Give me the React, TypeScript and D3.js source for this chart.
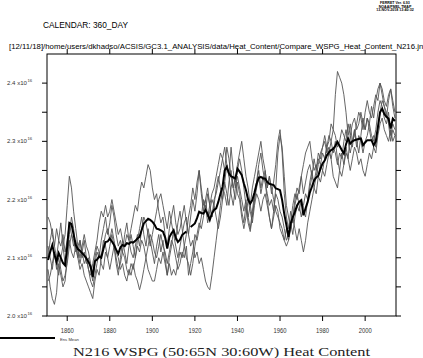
import React from "react";
import * as d3 from "d3";

const years: number[] = d3.range(1851, 2015);

const ensMean: (number | null)[] = [
  2.096, 2.110, 2.122, 2.105, 2.093, 2.108, 2.100, 2.091, 2.087, 2.120,
  2.160, 2.158, 2.140, 2.122, 2.115, 2.112, 2.108, 2.104, 2.099, 2.093,
  2.085, 2.067, 2.094, 2.097, 2.102, 2.100, 2.115, 2.127, 2.128, 2.133,
  2.128, 2.122, 2.114, 2.107, 2.118, 2.122, 2.120, 2.125, 2.124, 2.127,
  2.126, 2.129, 2.133, 2.136, 2.148, 2.159, 2.163, 2.167, 2.165, 2.162,
  2.157, 2.150, 2.149, 2.147, 2.145, 2.135, 2.116, 2.135, 2.142, 2.147,
  2.135, 2.127, 2.131, 2.139, 2.142, 2.145, null, 2.153, 2.156, 2.159,
  2.168, 2.179, 2.177, 2.176, 2.182, 2.175, 2.165, 2.176, 2.182, 2.185,
  2.196, 2.210, 2.222, 2.250, 2.256, 2.245, 2.240, 2.238, 2.236, 2.253,
  2.248, 2.242, 2.228, 2.216, 2.200, 2.193, 2.199, 2.212, 2.227, 2.237,
  2.239, 2.236, 2.236, 2.230, 2.227, 2.226, 2.225, 2.219, 2.218, 2.216,
  2.199, 2.175, 2.156, 2.136, 2.159, 2.170, 2.179, 2.190, 2.196, 2.199,
  2.173, 2.185, 2.196, 2.212, 2.222, 2.233, 2.238, 2.241, 2.253, 2.262,
  2.267, 2.276, 2.281, 2.285, 2.287, 2.292, 2.299, 2.292, 2.285, 2.279,
  2.295, 2.305, 2.296, 2.300, 2.302, 2.303, 2.304, 2.305, 2.293, 2.298,
  2.302, 2.302, 2.302, 2.293, 2.300, 2.325, 2.350, 2.356, 2.347, 2.342,
  2.339, 2.322, 2.339, 2.335,
];

const member1: number[] = [
  2.10, 2.13, 2.15, 2.12, 2.10, 2.13, 2.16, 2.12, 2.14, 2.19,
  2.24, 2.22, 2.18, 2.15, 2.12, 2.13, 2.10, 2.11, 2.09, 2.10,
  2.08, 2.06, 2.09, 2.11, 2.10, 2.13, 2.15, 2.17, 2.14, 2.16,
  2.19, 2.17, 2.14, 2.12, 2.13, 2.11, 2.14, 2.16, 2.13, 2.15,
  2.17, 2.19, 2.18, 2.21, 2.23, 2.22, 2.24, 2.26, 2.25, 2.22,
  2.20, 2.21, 2.18, 2.16, 2.17, 2.14, 2.12, 2.15, 2.17, 2.19,
  2.16, 2.14, 2.15, 2.17, 2.19, 2.16, 2.14, 2.17, 2.20, 2.18,
  2.21, 2.25, 2.22, 2.19, 2.20, 2.17, 2.19, 2.21, 2.22, 2.24,
  2.26, 2.28, 2.27, 2.25, 2.29, 2.27, 2.24, 2.22, 2.20, 2.23,
  2.21, 2.18, 2.16, 2.19, 2.17, 2.15, 2.18, 2.21, 2.23, 2.25,
  2.22, 2.24, 2.23, 2.21, 2.19, 2.20, 2.18, 2.21, 2.20, 2.18,
  2.17, 2.15, 2.13, 2.14, 2.16, 2.19, 2.21, 2.20, 2.22, 2.24,
  2.21, 2.23, 2.25, 2.26, 2.24, 2.27, 2.25, 2.28, 2.27, 2.29,
  2.31, 2.29, 2.30, 2.33, 2.32, 2.38, 2.42, 2.41, 2.40, 2.38,
  2.35, 2.31, 2.33, 2.30, 2.32, 2.29, 2.31, 2.30, 2.28, 2.30,
  2.31, 2.33, 2.31, 2.30, 2.32, 2.35, 2.37, 2.36, 2.34, 2.33,
  2.35, 2.31, 2.33, 2.32,
];

const member2: number[] = [
  2.08, 2.05, 2.03, 2.02, 2.04, 2.09, 2.07, 2.05, 2.06, 2.10,
  2.14, 2.17, 2.15, 2.12, 2.10, 2.08, 2.09, 2.07, 2.06, 2.05,
  2.04, 2.03, 2.06, 2.08, 2.07, 2.10, 2.13, 2.12, 2.10, 2.08,
  2.10, 2.12, 2.09, 2.07, 2.10, 2.13, 2.11, 2.09, 2.12, 2.14,
  2.12, 2.10, 2.13, 2.15, 2.17, 2.14, 2.12, 2.15, 2.13, 2.11,
  2.09, 2.12, 2.14, 2.11, 2.13, 2.10, 2.07, 2.10, 2.12, 2.15,
  2.13, 2.16, 2.18, 2.15, 2.12, 2.14, 2.17, 2.19, 2.22, 2.20,
  2.23, 2.25, 2.21, 2.18, 2.20, 2.22, 2.19, 2.17, 2.20, 2.21,
  2.23, 2.25, 2.27, 2.29, 2.26, 2.24, 2.29, 2.25, 2.22, 2.24,
  2.22, 2.20, 2.18, 2.20, 2.17, 2.19, 2.22, 2.24, 2.26, 2.28,
  2.30, 2.27, 2.25, 2.22, 2.24, 2.21, 2.23, 2.26, 2.30, 2.32,
  2.28, 2.21, 2.17, 2.15, 2.18, 2.16, 2.19, 2.21, 2.19, 2.17,
  2.19, 2.21, 2.20, 2.22, 2.24, 2.23, 2.25, 2.27, 2.26, 2.28,
  2.27, 2.29, 2.31, 2.30, 2.28, 2.30, 2.27, 2.25, 2.28, 2.26,
  2.29, 2.27, 2.31, 2.29, 2.32, 2.30, 2.28, 2.31, 2.34, 2.32,
  2.34, 2.33, 2.36, 2.34, 2.37, 2.39, 2.40, 2.38, 2.36, 2.34,
  2.37, 2.39, 2.36, 2.34,
];

const member3: number[] = [
  2.17, 2.16, 2.14, 2.12, 2.15, 2.13, 2.12, 2.14, 2.11, 2.13,
  2.16, 2.14, 2.12, 2.13, 2.11, 2.09, 2.11, 2.13, 2.10, 2.08,
  2.07, 2.09, 2.11, 2.13, 2.16, 2.18, 2.17, 2.19, 2.17, 2.18,
  2.20, 2.18, 2.16, 2.14, 2.15, 2.13, 2.12, 2.14, 2.13, 2.11,
  2.10, 2.12, 2.14, 2.12, 2.15, 2.17, 2.16, 2.14, 2.12, 2.14,
  2.16, 2.18, 2.20, 2.21, 2.19, 2.17, 2.15, 2.18, 2.16, 2.14,
  2.12, 2.10, 2.12, 2.14, 2.16, 2.17, 2.14, 2.12, 2.13, 2.10,
  2.11, 2.09, 2.10, 2.08, 2.06, 2.05, 2.045, 2.07, 2.10, 2.13,
  2.16, 2.19, 2.22, 2.21, 2.19, 2.23, 2.25, 2.22, 2.24, 2.21,
  2.20, 2.17, 2.15, 2.17, 2.20, 2.18, 2.16, 2.19, 2.21, 2.20,
  2.18, 2.20, 2.21, 2.19, 2.17, 2.15, 2.17, 2.19, 2.18, 2.15,
  2.14, 2.13, 2.15, 2.13, 2.16, 2.14, 2.17, 2.19, 2.18, 2.20,
  2.18, 2.17, 2.20, 2.23, 2.25, 2.22, 2.24, 2.26, 2.28, 2.29,
  2.30, 2.28, 2.29, 2.27, 2.24, 2.23, 2.22, 2.25, 2.24, 2.26,
  2.28, 2.27, 2.25, 2.27, 2.29, 2.28, 2.26, 2.27, 2.25, 2.24,
  2.26, 2.28, 2.27, 2.29, 2.28, 2.31, 2.33, 2.34, 2.32, 2.31,
  2.30, 2.32, 2.30, 2.31,
];

const member4: number[] = [
  2.06, 2.07, 2.09, 2.11, 2.08, 2.10, 2.08, 2.06, 2.07, 2.09,
  2.12, 2.14, 2.13, 2.11, 2.12, 2.10, 2.12, 2.14, 2.12, 2.11,
  2.09, 2.07, 2.10, 2.12, 2.11, 2.09, 2.08, 2.11, 2.10, 2.12,
  2.14, 2.12, 2.10, 2.08, 2.09, 2.11, 2.10, 2.08, 2.07, 2.09,
  2.08, 2.10, 2.12, 2.11, 2.13, 2.12, 2.10, 2.08, 2.07, 2.06,
  2.06, 2.08, 2.10, 2.09, 2.11, 2.09, 2.07, 2.09, 2.07, 2.08,
  2.07, 2.09, 2.11, 2.10, 2.12, 2.10, 2.09, 2.07, 2.09, 2.12,
  2.14, 2.16, 2.15, 2.17, 2.19, 2.16, 2.18, 2.20, 2.19, 2.22,
  2.24, 2.22, 2.20, 2.23, 2.21, 2.19, 2.22, 2.24, 2.23, 2.26,
  2.28, 2.30, 2.27, 2.24, 2.22, 2.19, 2.17, 2.20, 2.22, 2.24,
  2.21, 2.23, 2.25, 2.22, 2.24, 2.22, 2.20, 2.18, 2.17, 2.16,
  2.15, 2.13, 2.12, 2.13, 2.15, 2.17, 2.20, 2.22, 2.21, 2.24,
  2.26, 2.28, 2.29, 2.30, 2.27, 2.25, 2.26, 2.24, 2.26, 2.25,
  2.27, 2.29, 2.28, 2.30, 2.32, 2.31, 2.29, 2.30, 2.32, 2.31,
  2.30, 2.33, 2.31, 2.33, 2.34, 2.32, 2.33, 2.35, 2.33, 2.32,
  2.34, 2.32, 2.30, 2.31, 2.29, 2.32, 2.35, 2.37, 2.36, 2.35,
  2.33, 2.30, 2.32, 2.31,
];

const member5: number[] = [
  2.12, 2.10, 2.08, 2.11, 2.09, 2.07, 2.10, 2.12, 2.09, 2.11,
  2.13, 2.11, 2.10, 2.12, 2.10, 2.13, 2.11, 2.09, 2.10, 2.08,
  2.06, 2.05, 2.07, 2.09, 2.11, 2.10, 2.12, 2.14, 2.15, 2.13,
  2.15, 2.13, 2.11, 2.10, 2.08, 2.09, 2.07, 2.06, 2.08, 2.07,
  2.09, 2.07, 2.06, 2.045, 2.06, 2.08, 2.10, 2.12, 2.14, 2.13,
  2.11, 2.10, 2.12, 2.14, 2.12, 2.11, 2.09, 2.11, 2.13, 2.12,
  2.10, 2.08, 2.09, 2.11, 2.10, 2.12, 2.07, 2.09, 2.11, 2.14,
  2.13, 2.15, 2.17, 2.20, 2.18, 2.21, 2.19, 2.17, 2.19, 2.17,
  2.15, 2.17, 2.20, 2.23, 2.26, 2.24, 2.21, 2.19, 2.22, 2.25,
  2.27, 2.25, 2.22, 2.19, 2.16, 2.145, 2.17, 2.20, 2.23, 2.26,
  2.28, 2.25, 2.23, 2.20, 2.17, 2.15, 2.18, 2.22, 2.28, 2.31,
  2.29, 2.24, 2.19, 2.17, 2.15, 2.17, 2.15, 2.13, 2.15, 2.13,
  2.11, 2.13, 2.16, 2.18, 2.20, 2.22, 2.21, 2.24, 2.23, 2.25,
  2.24, 2.26, 2.28, 2.27, 2.29, 2.28, 2.26, 2.28, 2.27, 2.30,
  2.32, 2.30, 2.28, 2.30, 2.31, 2.33, 2.35, 2.34, 2.32, 2.35,
  2.37, 2.35, 2.34, 2.36, 2.38, 2.37, 2.40, 2.39, 2.37, 2.36,
  2.38, 2.39, 2.37, 2.35,
];

const members: number[][] = [member1, member2, member3, member4, member5];

const yMajorTicks: number[] = [2.0, 2.1, 2.2, 2.3, 2.4];
const yMajorLabels: string[] = ["2.0", "2.1", "2.2", "2.3", "2.4"];
const yMinorTicks: number[] = [2.05, 2.15, 2.25, 2.35];
const xTicks: number[] = [1860, 1880, 1900, 1920, 1940, 1960, 1980, 2000];

const title = "N216 WSPG (50:65N 30:60W) Heat Content";
const calendarText = "CALENDAR: 360_DAY";
const pathText =
  "[12/11/18]/home/users/dkhadso/ACSIS/GC3.1_ANALYSIS/data/Heat_Content/Compare_WSPG_Heat_Content_N216.jnl";
const stampLines: string[] = ["FERRET Ver. 6.93", "NOAA/PMEL TMAP", "13-NOV-2018 13:40:32"];
const legendLabel = "Ens Mean";

export default function App() {
  const W = 423;
  const H = 358;
  const left = 47;
  const right = 396;
  const top = 54;
  const bottom = 316;

  const x = d3.scaleLinear().domain([1850.5, 2014.5]).range([left, right]);
  const y = d3.scaleLinear().domain([2.0, 2.45]).range([bottom, top]);

  const line = d3
    .line<number | null>()
    .defined((d) => d != null)
    .x((_, i) => x(years[i]))
    .y((d) => y(d as number));

  const sans = "'Liberation Sans', Arial, sans-serif";
  const tickLen = 5;

  return (
    <svg
      width={W}
      height={H}
      style={{ position: "absolute", left: 0, top: 0, background: "#fff" }}
    >
      <rect x={0} y={0} width={W} height={H} fill="#fff" />
      {/* stamp top-right */}
      {stampLines.map((s, i) => (
        <text
          key={s}
          x={395}
          y={4 + i * 3.6}
          fontSize={3.6}
          fontFamily={sans}
          fontWeight="bold"
          textAnchor="middle"
          fill="#000"
        >
          {s}
        </text>
      ))}
      <text x={43} y={28} fontSize={8.5} fontFamily={sans} textLength={85} lengthAdjust="spacingAndGlyphs">
        {calendarText}
      </text>
      <text x={9} y={49} fontSize={7} fontFamily={sans} textLength={416} lengthAdjust="spacingAndGlyphs">
        {pathText}
      </text>

      {/* members */}
      <g fill="none" stroke="#555" strokeWidth={0.9}>
        {members.map((m, k) => (
          <path key={k} d={line(m) || ""} />
        ))}
      </g>
      <path d={line(ensMean) || ""} fill="none" stroke="#000" strokeWidth={2} />

      {/* frame */}
      <rect x={left} y={top} width={right - left} height={bottom - top} fill="none" stroke="#000" strokeWidth={1} />

      {/* y ticks */}
      {[...yMajorTicks, ...yMinorTicks].map((t) => (
        <g key={"y" + t}>
          <line x1={left - tickLen} x2={left} y1={y(t)} y2={y(t)} stroke="#000" />
          <line x1={right} x2={right + tickLen} y1={y(t)} y2={y(t)} stroke="#000" />
        </g>
      ))}
      {yMajorTicks.map((t, i) => (
        <g key={"yl" + t}>
          <text x={7} y={y(t) + 2} fontSize={6} fontFamily={sans} fill="#333" textLength={20} lengthAdjust="spacingAndGlyphs">
            {yMajorLabels[i] + " x10"}
          </text>
          <text x={27.5} y={y(t) - 1} fontSize={4.2} fontFamily={sans} fill="#333">
            16
          </text>
        </g>
      ))}

      {/* x ticks */}
      {xTicks.map((t) => (
        <g key={"x" + t}>
          <line x1={x(t)} x2={x(t)} y1={bottom} y2={bottom + tickLen} stroke="#000" />
          <line x1={x(t)} x2={x(t)} y1={top - tickLen} y2={top} stroke="#000" />
          <text
            x={x(t)}
            y={333}
            fontSize={8}
            fontFamily={sans}
            textAnchor="middle"
            fill="#333"
            textLength={13}
            lengthAdjust="spacingAndGlyphs"
          >
            {t}
          </text>
        </g>
      ))}

      {/* legend */}
      <line x1={0} x2={55} y1={338} y2={338} stroke="#000" strokeWidth={2} />
      <text x={60} y={341} fontSize={4.2} fontFamily={sans} fill="#333">
        {legendLabel}
      </text>

      {/* title */}
      <text
        x={73}
        y={356}
        fontSize={13}
        fontFamily="'Liberation Serif', 'DejaVu Serif', serif"
        textLength={297}
        lengthAdjust="spacingAndGlyphs"
        fill="#222"
      >
        {title}
      </text>
    </svg>
  );
}
